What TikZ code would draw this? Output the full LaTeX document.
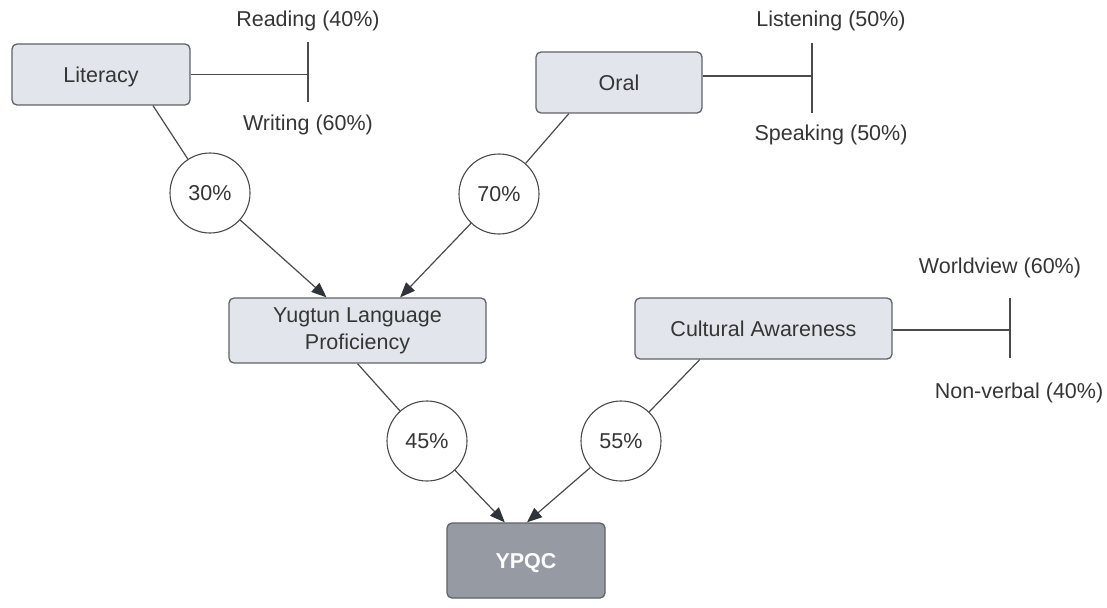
\documentclass[tikz,border=0pt]{standalone}
\usepackage{fontspec}
\setmainfont{Liberation Sans}
\usetikzlibrary{arrows.meta,calc}
\definecolor{txt}{HTML}{353535}
\definecolor{boxfill}{HTML}{E2E5EB}
\definecolor{boxline}{HTML}{5F6368}
\definecolor{darkfill}{HTML}{959AA3}
\definecolor{linec}{HTML}{4A4A4A}
\definecolor{tipc}{HTML}{2F343B}
\begin{document}
\begin{tikzpicture}[x=1pt,y=-1pt,
 every node/.style={font=\fontsize{21.5}{27}\selectfont, text=txt},
 box/.style={draw=boxline, line width=1.3pt, fill=boxfill, rounded corners=5pt, inner sep=0pt, align=center},
 oneline/.style={text height=15.5pt, text depth=0pt},
 pct/.style={circle, draw=linec, line width=1.1pt, fill=white, minimum size=80pt, inner sep=0pt, oneline},
 lbl/.style={anchor=base},
 conn/.style={draw=linec, line width=1.2pt},
 arr/.style={conn, -{Triangle[length=15pt,width=12pt,color=tipc]}},
]
\useasboundingbox (0,0) rectangle (1107,607);

% boxes
\node[box, oneline, minimum width=178pt, minimum height=61pt] (lit) at (101,74.5) {Literacy};
\node[box, oneline, minimum width=166pt, minimum height=61pt] (oral) at (619,82.5) {Oral};
\node[box, minimum width=257pt, minimum height=65pt] (yug) at (357.5,330.5) {Yugtun Language\\Proficiency};
\node[box, oneline, minimum width=257pt, minimum height=61pt] (cult) at (763.5,328.5) {Cultural Awareness};
\node[box, oneline, fill=darkfill, minimum width=158pt, minimum height=75pt, text=white, font=\fontsize{21.5}{27}\selectfont\bfseries] (ypqc) at (526,560.5) {YPQC};

% circles
\node[pct] (c30) at (210,193) {30\%};
\node[pct] (c70) at (499,194) {70\%};
\node[pct] (c45) at (427,441) {45\%};
\node[pct] (c55) at (621,441) {55\%};

% sub-labels
\node[lbl] (read) at (308,27) {Reading (40\%)};
\node[lbl] (writ) at (308,131) {Writing (60\%)};
\node[lbl] (list) at (831,27) {Listening (50\%)};
\node[lbl] (speak) at (831,140) {Speaking (50\%)};
\node[lbl] (world) at (1000,273) {Worldview (60\%)};
\node[lbl] (nonv) at (1019,398) {Non-verbal (40\%)};

% splits
\coordinate (litT) at (308,74.5);
\coordinate (litTtop) at (308,42);
\coordinate (litTbot) at (308,102);
\draw[conn] (lit.east) -- (litT);
\draw[conn] (litTtop) -- (litTbot);

\coordinate (oralT) at (812,76);
\coordinate (oralTtop) at (812,43);
\coordinate (oralTbot) at (812,113);
\draw[conn] (oral.east |- oralT) -- (oralT);
\draw[conn] (oralTtop) -- (oralTbot);

\coordinate (cultT) at (1010,330);
\coordinate (cultTtop) at (1010,298);
\coordinate (cultTbot) at (1010,358);
\draw[conn] (cult.east |- cultT) -- (cultT);
\draw[conn] (cultTtop) -- (cultTbot);

% connectors
\draw[conn] ($(lit.south west)!0.79!(lit.south east)$) -- (c30);
\draw[arr] (c30) -- ($(yug.north west)!0.38!(yug.north east)$);
\draw[conn] ($(oral.south west)!0.2!(oral.south east)$) -- (c70);
\draw[arr] (c70) -- ($(yug.north west)!0.665!(yug.north east)$);
\draw[conn] (yug.south) -- (c45);
\draw[arr] (c45) -- ($(ypqc.north west)!0.367!(ypqc.north east)$);
\draw[conn] ($(cult.south west)!0.253!(cult.south east)$) -- (c55);
\draw[arr] (c55) -- ($(ypqc.north west)!0.506!(ypqc.north east)$);
\end{tikzpicture}
\end{document}
